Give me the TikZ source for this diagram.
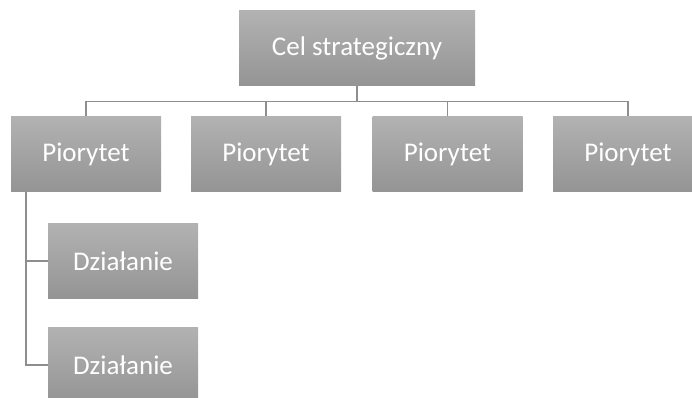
\documentclass[tikz,border=0pt]{standalone}
\usepackage{fontspec}
\setmainfont{Carlito}
\definecolor{boxtop}{HTML}{B2B2B2}
\definecolor{boxbot}{HTML}{949494}
\definecolor{linegray}{HTML}{8E8E8E}
\begin{document}
\begin{tikzpicture}[x=1pt,y=1pt,
  box/.style={rectangle, top color=boxtop, bottom color=boxbot, draw=none,
    minimum width=150pt, minimum height=75pt, inner sep=0pt,
    text=white, font=\fontsize{27}{30}\selectfont},
  conn/.style={draw=linegray, line width=1.1pt}]
\useasboundingbox (0,0) rectangle (692,-398);
\clip (0,0) rectangle (692,-398);
\node[box, minimum width=236pt] (top) at (357,-48.5) {Cel strategiczny};
\node[box] (p1) at (86,-154) {Piorytet};
\node[box] (p2) at (266,-154) {Piorytet};
\node[box] (p3) at (447.5,-154) {Piorytet};
\node[box] (p4) at (628,-154) {Piorytet};
\node[box] (d1) at (123,-261) {Działanie};
\node[box] (d2) at (123,-365) {Działanie};
\coordinate (bus) at (0,-101.7);
\coordinate (trunk) at (26,0);
\draw[conn] (top.south) -- (top.south |- bus);
\draw[conn] (p1.north) -- (p1.north |- bus) -- (p4.north |- bus) -- (p4.north);
\draw[conn] (p2.north) -- (p2.north |- bus);
\draw[conn] (p3.north) -- (p3.north |- bus);
\draw[conn] (p1.south -| trunk) |- (d2.west);
\draw[conn] (trunk |- d1.west) -- (d1.west);
\end{tikzpicture}
\end{document}
